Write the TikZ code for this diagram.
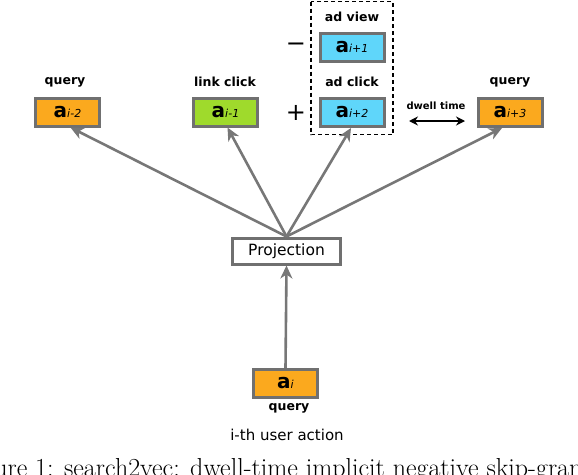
\documentclass[tikz,border=0pt]{standalone}
\usepackage{fontspec}
\setmainfont{DejaVu Sans}
\newfontfamily\capfont{Latin Modern Roman}
\usetikzlibrary{arrows.meta}
\definecolor{borderg}{HTML}{707070}
\definecolor{arrowg}{HTML}{777777}
\definecolor{qorange}{HTML}{FBA91E}
\definecolor{lgreen}{HTML}{9FDA2C}
\definecolor{acyan}{HTML}{5FD6FA}
\tikzset{
  actbox/.style={draw=borderg, line width=3pt, minimum width=64pt, minimum height=28pt, inner sep=0pt},
  lbl/.style={font=\bfseries\fontsize{12.5}{14}\selectfont, inner sep=0pt},
  conn/.style={draw=arrowg, line width=2.6pt, -{Stealth[length=13pt,width=12pt,inset=4pt]}},
  sign/.style={font=\fontsize{24}{24}\selectfont, inner sep=0pt}
}
\newcommand{\act}[1]{{\bfseries\fontsize{20}{20}\selectfont a}{\fontsize{11}{11}\selectfont\itshape #1}}
\begin{document}
\begin{tikzpicture}[x=1pt,y=-1pt]
\useasboundingbox (0,0) rectangle (578,474);
\clip (0,0) rectangle (578,474);
% boxes
\node[actbox, fill=qorange] (am2) at (67.5,112) {\act{i-2}};
\node[actbox, fill=lgreen] (am1) at (225.5,112) {\act{i-1}};
\node[actbox, fill=acyan] (ap1) at (352,47.5) {\act{i+1}};
\node[actbox, fill=acyan] (ap2) at (352,112.5) {\act{i+2}};
\node[actbox, fill=qorange] (ap3) at (510,112.5) {\act{i+3}};
\node[actbox, fill=qorange] (ai) at (285.5,383.5) {\act{i}};
\node[draw=borderg, line width=3pt, minimum width=108pt, minimum height=26pt, inner sep=0pt,
      font=\fontsize{15.5}{16}\selectfont] (proj) at (286.5,251) {Projection};
% labels
\node[lbl] (l1) at (65,82) {query};
\node[lbl] (l2) at (225,82) {link click};
\node[lbl] (l3) at (352,17) {ad view};
\node[lbl] (l4) at (352,82) {ad click};
\node[lbl] (l5) at (510,82) {query};
\node[lbl] (l6) at (289,408) {query};
\node[lbl, font=\bfseries\fontsize{10}{12}\selectfont] (dw) at (436,106) {dwell time};
\node[inner sep=0pt, font=\fontsize{15}{17}\selectfont] (ith) at (287,435) {i-th user action};
\node[sign] (minus) at (296,47) {\textminus};
\node[sign] (plus) at (296,113) {+};
% dashed group
\draw[black, line width=1.6pt, dash pattern=on 4pt off 3pt] (311,1.5) rectangle (393,134.5);
% dwell arrow
\coordinate (dwl) at (409,121);
\coordinate (dwr) at (465,121);
\draw[black, line width=2.4pt, {Stealth[length=9pt,width=9pt]}-{Stealth[length=9pt,width=9pt]}] (dwl) -- (dwr);
% connectors
\draw[conn] (proj.north) -- ([xshift=3pt]am2.south);
\draw[conn] (proj.north) -- ([xshift=2pt]am1.south);
\draw[conn] (proj.north) -- ([xshift=-1pt]ap2.south);
\draw[conn] (proj.north) -- ([xshift=-8pt]ap3.south);
\draw[conn] (ai.north) -- (proj.south);
% caption (clipped)
\node[anchor=base west, inner sep=0pt, font=\capfont\fontsize{26}{28}\selectfont] (cap) at (-40,476) {Figure 1: search2vec: dwell-time implicit negative skip-gram};
\end{tikzpicture}
\end{document}
